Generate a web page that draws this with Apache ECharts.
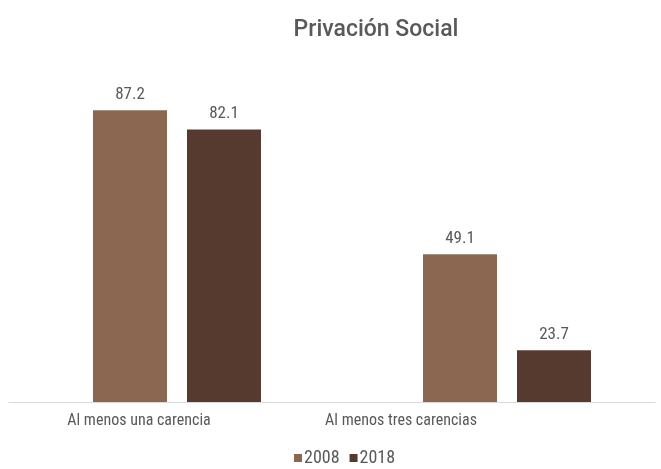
<!DOCTYPE html>
<html><head><meta charset="utf-8">
<script src="https://cdn.jsdelivr.net/npm/echarts@6/dist/echarts.min.js"></script>
<style>html,body{margin:0;padding:0;background:#fff}#c{width:661px;height:469px}</style>
</head><body><div id="c"></div>
<script>
const categories = ['Al menos una carencia', 'Al menos tres carencias'];
const seriesNames = ['2008', '2018'];
const values2008 = [87.2, 49.1];
const values2018 = [82.1, 23.7];
const titleText = 'Privación Social';

const font = '"Liberation Sans Narrow", "Roboto Condensed", Roboto, sans-serif';
const gray = '#595959';
const chart = echarts.init(document.getElementById('c'));
chart.setOption({
  animation: false,
  title: { text: titleText, left: 371, top: 14, textAlign: 'center',
    textStyle: { fontFamily: 'Roboto', fontSize: 23, fontWeight: 500, color: gray } },
  legend: { data: seriesNames, bottom: -3, left: 289, itemWidth: 8, itemHeight: 8, itemGap: 10,
    icon: 'rect', textStyle: { fontFamily: font, fontSize: 18, color: gray, padding: [0,0,0,-3] } },
  grid: [
    { left: 12, right: -11, top: 62, bottom: 67, outerBoundsMode: 'none', containLabel: false },
    { left: 8, width: 524, top: 62, bottom: 67, outerBoundsMode: 'none', containLabel: false },
    { left: 9, right: 6, top: 62, bottom: 67, outerBoundsMode: 'none', containLabel: false }
  ],
  xAxis: [
    { type: 'category', gridIndex: 0, data: categories, axisLine: { show: false }, axisTick: { show: false }, axisLabel: { show: false } },
    { type: 'category', gridIndex: 1, data: categories, axisLine: { show: false }, axisTick: { show: false },
      axisLabel: { fontFamily: font, fontSize: 16, color: gray, margin: 11 } },
    { type: 'category', gridIndex: 2, data: categories, axisLine: { show: true, lineStyle: { color: '#d9d9d9', width: 1 } }, axisTick: { show: false }, axisLabel: { show: false } }
  ],
  yAxis: [
    { type: 'value', gridIndex: 0, min: 10, max: 100, show: false, splitLine: { show: false } },
    { type: 'value', gridIndex: 1, min: 10, max: 100, show: false, splitLine: { show: false } },
    { type: 'value', gridIndex: 2, min: 10, max: 100, show: false, splitLine: { show: false } }
  ],
  series: [
    { name: seriesNames[0], type: 'bar', data: values2008, barWidth: 74, barGap: '27%',
      itemStyle: { color: '#8B6650' },
      label: { show: true, position: 'top', distance: 7, fontFamily: font, fontSize: 17, color: gray } },
    { name: seriesNames[1], type: 'bar', data: values2018, barWidth: 74, barGap: '27%',
      itemStyle: { color: '#573A2F' },
      label: { show: true, position: 'top', distance: 7, fontFamily: font, fontSize: 17, color: gray } }
  ]
});
</script></body></html>
